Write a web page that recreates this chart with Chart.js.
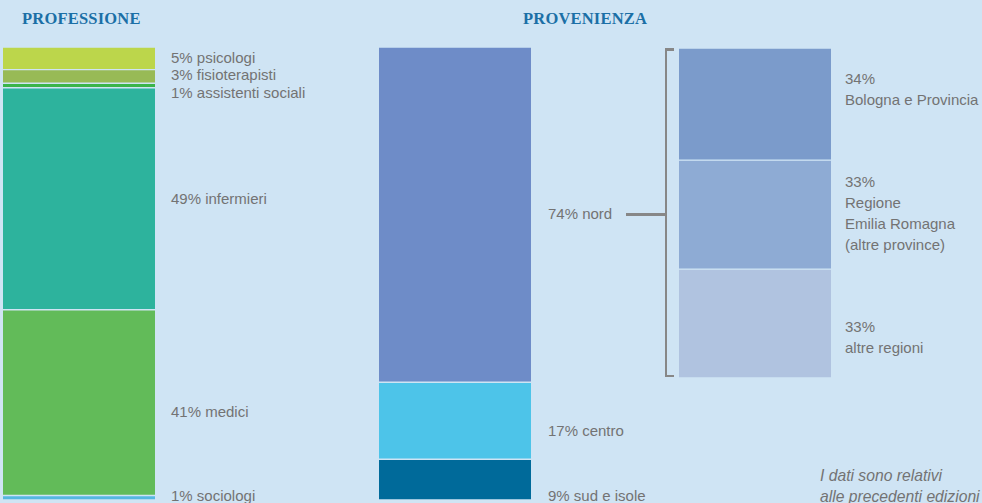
<!DOCTYPE html>
<html><head><meta charset="utf-8">
<script src="https://cdn.jsdelivr.net/npm/chart.js@4"></script>
<style>
html,body{margin:0;padding:0;width:982px;height:503px;overflow:hidden;background:#cfe4f4;font-family:"Liberation Sans",Arial,sans-serif;}
#stage{position:relative;width:982px;height:503px;overflow:hidden;}
canvas{position:absolute;}
.lbl{position:absolute;color:#737373;font-size:15px;line-height:21px;white-space:nowrap;transform:translateY(-50%);}
.title{position:absolute;top:9px;font-family:"Liberation Serif",serif;font-weight:bold;font-size:16.5px;color:#1b6fa6;letter-spacing:0.2px;}
.br{position:absolute;background:#878787;}
.note{position:absolute;left:820px;top:465px;color:#737373;font-size:15.7px;line-height:21px;font-style:italic;white-space:nowrap;}
</style></head>
<body><div id="stage">
<div class="title" style="left:22px">PROFESSIONE</div>
<div class="title" style="left:523px">PROVENIENZA</div>
<canvas id="cProf" width="152" height="453" style="left:3px;top:47px"></canvas>
<canvas id="cProv" width="152" height="453" style="left:379px;top:47px"></canvas>
<canvas id="cNord" width="152" height="330" style="left:679px;top:48px"></canvas>
<div class="note">I dati sono relativi<br>alle precedenti edizioni</div>
</div>
<script>
// ---- DATA ----
const profCategories = ['psicologi', 'fisioterapisti', 'assistenti sociali', 'infermieri', 'medici', 'sociologi'];
const profValues = [5, 3, 1, 49, 41, 1];
const provCategories = ['nord', 'centro', 'sud e isole'];
const provValues = [74, 17, 9];
const nordCategories = [['Bologna e Provincia'], ['Regione', 'Emilia Romagna', '(altre province)'], ['altre regioni']];
const nordValues = [34, 33, 33];

// ---- STYLE ----
const BG = '#cfe4f4';
const profColors = ['#bcd64b', '#98ba56', '#3ab44a', '#2db39d', '#62bb59', '#55b7e0'];
const provColors = ['#6e8cc8', '#4dc4e9', '#006a9a'];
const nordColors = ['#7b9bcb', '#8eabd4', '#b0c3e0'];
// label layout: x position and vertical nudge from segment centre
const profLabelX = 171, provLabelX = 548, nordLabelX = 845;
const profNudge = [-1, -2, 6, -1, 8, -3];
const provNudge = [-2, 9, 15];
const nordNudge = [-15, -2, 13];

function makeBar(id, values, colors) {
  return new Chart(document.getElementById(id), {
    type: 'bar',
    data: {
      labels: [''],
      datasets: values.map((v, i) => ({
        data: [v],
        backgroundColor: colors[i],
        borderColor: BG,
        borderWidth: {top: 1, bottom: 1, left: 0, right: 0},
        borderSkipped: false,
        barPercentage: 1,
        categoryPercentage: 1
      }))
    },
    options: {
      responsive: false,
      animation: false,
      events: [],
      layout: {padding: 0},
      plugins: {legend: {display: false}, tooltip: {enabled: false}},
      scales: {
        x: {display: false, stacked: true},
        y: {display: false, stacked: true, min: 0, max: 100, reverse: true}
      }
    }
  });
}

const stage = document.getElementById('stage');
function segCenter(chart, i) {
  const el = chart.getDatasetMeta(i).data[0];
  return chart.canvas.offsetTop + (el.y + el.base) / 2;
}
function addLabel(x, y, html) {
  const d = document.createElement('div');
  d.className = 'lbl';
  d.style.left = x + 'px';
  d.style.top = y + 'px';
  d.innerHTML = html;
  stage.appendChild(d);
}
function addRect(l, t, w, h) {
  const d = document.createElement('div');
  d.className = 'br';
  d.style.left = l + 'px'; d.style.top = t + 'px';
  d.style.width = w + 'px'; d.style.height = h + 'px';
  stage.appendChild(d);
}

const chProf = makeBar('cProf', profValues, profColors);
const chProv = makeBar('cProv', provValues, provColors);
const chNord = makeBar('cNord', nordValues, nordColors);

profValues.forEach((v, i) => addLabel(profLabelX, segCenter(chProf, i) + profNudge[i], v + '% ' + profCategories[i]));
provValues.forEach((v, i) => addLabel(provLabelX, segCenter(chProv, i) + provNudge[i], v + '% ' + provCategories[i]));
nordValues.forEach((v, i) => addLabel(nordLabelX, segCenter(chNord, i) + nordNudge[i], [v + '%'].concat(nordCategories[i]).join('<br>')));

// bracket linking "nord" to its breakdown
const ys = chNord.scales.y;
const bTop = chNord.canvas.offsetTop + ys.getPixelForValue(0);
const bBot = chNord.canvas.offsetTop + ys.getPixelForValue(100) - 1;
const bx = 664.5;
addRect(bx, bTop, 2.5, bBot - bTop);
addRect(bx, bTop, 9, 2.5);
addRect(bx, bBot - 2.5, 9, 2.5);
const nordY = segCenter(chProv, 0);
addRect(626, nordY - 1.25, bx - 626 + 1, 2.5);
</script>
</body></html>
